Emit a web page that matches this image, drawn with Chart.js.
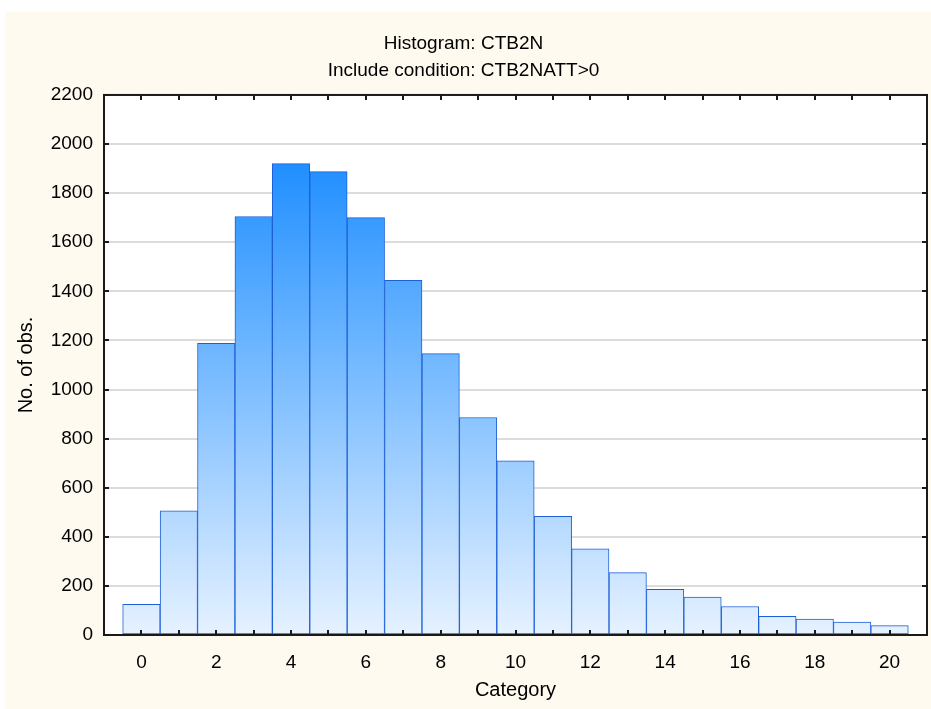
<!DOCTYPE html>
<html>
<head>
<meta charset="utf-8">
<script src="https://cdn.jsdelivr.net/npm/chart.js@4.4.1/dist/chart.umd.min.js"></script>
<style>
html,body{margin:0;padding:0;background:#ffffff;}
#wrap{width:931px;height:709px;position:relative;}
canvas{display:block;}
</style>
</head>
<body>
<div id="wrap"><canvas id="c" width="931" height="709"></canvas></div>
<script>
const categories = [0, 1, 2, 3, 4, 5, 6, 7, 8, 9, 10, 11, 12, 13, 14, 15, 16, 17, 18, 19, 20];
const counts = [125, 506, 1188, 1705, 1920, 1888, 1700, 1445, 1146, 886, 710, 483, 351, 254, 186, 154, 116, 76, 65, 53, 38];
const xTickLabels = [0, 2, 4, 6, 8, 10, 12, 14, 16, 18, 20];
const yTickValues = [0, 200, 400, 600, 800, 1000, 1200, 1400, 1600, 1800, 2000, 2200];
const titleLines = ['Histogram: CTB2N', 'Include condition: CTB2NATT>0'];
const xTitle = 'Category';
const yTitle = 'No. of obs.';

const FONT = '"Liberation Sans", Arial, sans-serif';

const bgPlugin = {
  id: 'bg',
  beforeDraw(chart) {
    const ctx = chart.ctx;
    ctx.save();
    ctx.fillStyle = '#ffffff';
    ctx.fillRect(0, 0, chart.width, chart.height);
    ctx.fillStyle = '#fffaf0';
    ctx.fillRect(5, 12, chart.width - 5, chart.height - 12);
    const a = chart.chartArea;
    ctx.fillStyle = '#ffffff';
    ctx.fillRect(a.left, a.top, a.right - a.left, a.bottom - a.top);
    ctx.restore();
  }
};

const framePlugin = {
  id: 'frame',
  afterDatasetsDraw(chart) {
    const ctx = chart.ctx;
    const a = chart.chartArea;
    const xs = chart.scales.x, ys = chart.scales.y;
    ctx.save();
    ctx.strokeStyle = '#1a1a1a';
    ctx.lineWidth = 2;
    const tl = 5;
    ctx.beginPath();
    categories.forEach(v => {
      const px = Math.round(xs.getPixelForValue(v));
      ctx.moveTo(px, a.bottom); ctx.lineTo(px, a.bottom - tl);
      ctx.moveTo(px, a.top); ctx.lineTo(px, a.top + tl);
    });
    yTickValues.forEach(v => {
      const py = Math.round(ys.getPixelForValue(v));
      ctx.moveTo(a.left, py); ctx.lineTo(a.left + tl, py);
      ctx.moveTo(a.right, py); ctx.lineTo(a.right - tl, py);
    });
    ctx.stroke();
    ctx.strokeRect(a.left, a.top, a.right - a.left, a.bottom - a.top);
    ctx.restore();
  }
};

function barFill(context) {
  const chart = context.chart;
  const a = chart.chartArea;
  if (!a) return '#6ab0ff';
  const g = chart.ctx.createLinearGradient(0, a.bottom, 0, a.top);
  g.addColorStop(0, '#e6f2ff');
  g.addColorStop(0.9, '#1a8cff');
  g.addColorStop(1, '#1286ff');
  return g;
}

new Chart(document.getElementById('c'), {
  type: 'bar',
  data: {
    datasets: [{
      data: categories.map((c, i) => ({ x: c, y: counts[i] })),
      backgroundColor: barFill,
      borderColor: '#1d5fd6',
      borderWidth: 1,
      barPercentage: 1,
      categoryPercentage: 1,
      borderSkipped: false
    }]
  },
  options: {
    responsive: false,
    animation: false,
    devicePixelRatio: 1,
    layout: { padding: { left: 0, right: 4, top: 0, bottom: 0 } },
    plugins: {
      legend: { display: false },
      tooltip: { enabled: false },
      title: {
        display: true,
        text: titleLines,
        color: '#000000',
        font: { family: FONT, size: 19, weight: 'normal', lineHeight: 1.42 },
        padding: { top: 30, bottom: 11 }
      }
    },
    scales: {
      x: {
        type: 'linear',
        min: -1,
        max: 21,
        offset: false,
        grid: { display: false, drawTicks: false },
        border: { display: false },
        ticks: {
          stepSize: 1,
          autoSkip: false,
          maxRotation: 0,
          padding: 16,
          color: '#000000',
          font: { family: FONT, size: 19 },
          callback: v => xTickLabels.includes(v) ? String(v) : ''
        },
        title: {
          display: true,
          text: xTitle,
          color: '#000000',
          font: { family: FONT, size: 20 },
          padding: { top: 4, bottom: 7 }
        },
        afterFit: s => { s.height = 74; s.paddingLeft = 0; s.paddingRight = 0; }
      },
      y: {
        min: 0,
        max: 2200,
        grid: { color: '#dcdcdc', lineWidth: 2, drawTicks: false },
        border: { display: false },
        ticks: {
          stepSize: 200,
          padding: 11,
          color: '#000000',
          font: { family: FONT, size: 19 },
          callback: v => String(v)
        },
        title: {
          display: true,
          text: yTitle,
          color: '#000000',
          font: { family: FONT, size: 20 },
          padding: { top: 14, bottom: 4 }
        },
        afterFit: s => { s.width = 104; }
      }
    }
  },
  plugins: [bgPlugin, framePlugin]
});
</script>
</body>
</html>
